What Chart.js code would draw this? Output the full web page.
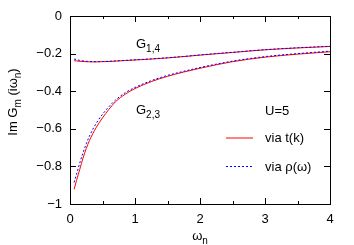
<!DOCTYPE html>
<html>
<head>
<meta charset="utf-8">
<script src="https://cdn.jsdelivr.net/npm/chart.js"></script>
<style>
  html, body { margin: 0; padding: 0; background: #fff; }
  #wrap { width: 354px; height: 245px; }
</style>
</head>
<body>
<div id="wrap"><canvas id="chart" width="354" height="245"></canvas></div>
<script>
// Matsubara frequencies (x) and Im G_m(i w_n)
const omega = [0.063, 0.1, 0.15, 0.2, 0.25, 0.3, 0.4, 0.5, 0.6, 0.7, 0.85, 1.0, 1.25, 1.5, 1.75, 2.0, 2.5, 3.0, 3.5, 4.0];
const g14ViaTk  = [-0.238, -0.239, -0.241, -0.242, -0.243, -0.244, -0.244, -0.243, -0.242, -0.240, -0.237, -0.234, -0.229, -0.223, -0.216, -0.208, -0.194, -0.180, -0.170, -0.162];
const g14ViaRho = [-0.229, -0.232, -0.236, -0.239, -0.241, -0.242, -0.243, -0.242, -0.241, -0.239, -0.236, -0.233, -0.228, -0.222, -0.215, -0.207, -0.193, -0.179, -0.169, -0.161];
const g23ViaTk  = [-0.922, -0.875, -0.816, -0.756, -0.705, -0.662, -0.595, -0.542, -0.496, -0.456, -0.416, -0.386, -0.349, -0.321, -0.298, -0.278, -0.243, -0.219, -0.203, -0.190];
const g23ViaRho = [-0.885, -0.842, -0.782, -0.728, -0.680, -0.638, -0.573, -0.523, -0.482, -0.447, -0.408, -0.380, -0.344, -0.316, -0.294, -0.274, -0.240, -0.216, -0.200, -0.187];

const xTicks = [0, 1, 2, 3, 4];
const xMinorTicks = [0.5, 1.5, 2.5, 3.5];
const yTicks = [0, -0.2, -0.4, -0.6, -0.8, -1];

const FONT = '"Liberation Sans", Arial, sans-serif';
const RED = '#ff0000';
const BLUE = '#0000ff';

function pts(ys) {
  return omega.map((x, i) => ({ x: x, y: ys[i] }));
}

function line(label, ys, color, dash) {
  return {
    label: label,
    data: pts(ys),
    borderColor: color,
    borderWidth: 1,
    borderDash: dash,
    pointRadius: 0,
    fill: false,
    cubicInterpolationMode: 'monotone'
  };
}

// text with subscripts: parts = [[text, isSub], ...]
function drawRich(ctx, parts, x, y, center) {
  let w = 0;
  parts.forEach(p => {
    ctx.font = (p[1] ? '10px ' : '13px ') + FONT;
    w += ctx.measureText(p[0]).width;
  });
  let cx = center ? x - w / 2 : x;
  parts.forEach(p => {
    ctx.font = (p[1] ? '10px ' : '13px ') + FONT;
    ctx.fillText(p[0], cx, p[1] ? y + 4 : y);
    cx += ctx.measureText(p[0]).width;
  });
}

const framePlugin = {
  id: 'frame',
  afterDraw(chart) {
    const ctx = chart.ctx;
    const a = chart.chartArea;
    const xs = chart.scales.x, ys = chart.scales.y;
    ctx.save();

    // legend samples
    ctx.lineWidth = 1;
    ctx.strokeStyle = RED;
    ctx.beginPath(); ctx.moveTo(226, 138); ctx.lineTo(253, 138); ctx.stroke();
    ctx.strokeStyle = BLUE;
    ctx.setLineDash([2, 2]);
    ctx.beginPath(); ctx.moveTo(226, 166.5); ctx.lineTo(253, 166.5); ctx.stroke();
    ctx.setLineDash([]);

    ctx.strokeStyle = '#000';
    ctx.strokeRect(a.left + 0.5, a.top + 0.5, a.right - a.left, a.bottom - a.top);
    ctx.beginPath();
    xTicks.forEach(v => {
      const px = Math.round(xs.getPixelForValue(v)) + 0.5;
      ctx.moveTo(px, a.bottom); ctx.lineTo(px, a.bottom - 6);
      ctx.moveTo(px, a.top); ctx.lineTo(px, a.top + 6);
    });
    xMinorTicks.forEach(v => {
      const px = Math.round(xs.getPixelForValue(v)) + 0.5;
      ctx.moveTo(px, a.bottom); ctx.lineTo(px, a.bottom - 3);
      ctx.moveTo(px, a.top); ctx.lineTo(px, a.top + 3);
    });
    yTicks.forEach(v => {
      const py = Math.round(ys.getPixelForValue(v)) + 0.5;
      ctx.moveTo(a.left, py); ctx.lineTo(a.left + 6, py);
      ctx.moveTo(a.right, py); ctx.lineTo(a.right - 6, py);
    });
    ctx.stroke();

    // labels
    ctx.fillStyle = '#000';
    ctx.textBaseline = 'alphabetic';
    ctx.textAlign = 'left';
    drawRich(ctx, [['G', false], ['1,4', true]], 136, 48, false);
    drawRich(ctx, [['G', false], ['2,3', true]], 136, 114, false);
    drawRich(ctx, [['U=5', false]], 265, 115, false);
    drawRich(ctx, [['via t(k)', false]], 265, 142, false);
    drawRich(ctx, [['via \u03c1(\u03c9)', false]], 265, 171, false);
    drawRich(ctx, [['\u03c9', false], ['n', true]], 200, 240, true);

    ctx.save();
    ctx.translate(17, 102);
    ctx.rotate(-Math.PI / 2);
    drawRich(ctx, [['Im G', false], ['m', true], [' (i\u03c9', false], ['n', true], [')', false]], 0, 0, true);
    ctx.restore();
    ctx.restore();
  }
};

new Chart(document.getElementById('chart').getContext('2d'), {
  type: 'line',
  data: {
    datasets: [
      line('G14 via rho', g14ViaRho, BLUE, [2, 2]),
      line('G23 via rho', g23ViaRho, BLUE, [2, 2]),
      line('G14 via t(k)', g14ViaTk, RED, []),
      line('G23 via t(k)', g23ViaTk, RED, [])
    ]
  },
  options: {
    responsive: false,
    animation: false,
    devicePixelRatio: 1,
    layout: { padding: { left: 0, right: 24, top: 16, bottom: 0 } },
    plugins: { legend: { display: false }, tooltip: { enabled: false } },
    scales: {
      x: {
        type: 'linear',
        min: 0, max: 4,
        grid: { display: false, drawTicks: false },
        border: { display: false },
        afterFit(scale) { scale.height = 41; },
        afterBuildTicks(scale) { scale.ticks = xTicks.map(v => ({ value: v })); },
        ticks: {
          padding: 8,
          color: '#000',
          font: { family: FONT, size: 13 },
          maxRotation: 0,
          callback: v => String(v)
        }
      },
      y: {
        type: 'linear',
        min: -1, max: 0,
        grid: { display: false, drawTicks: false },
        border: { display: false },
        afterFit(scale) { scale.width = 70; },
        afterBuildTicks(scale) { scale.ticks = yTicks.map(v => ({ value: v })); },
        ticks: {
          padding: 8,
          color: '#000',
          font: { family: FONT, size: 13 },
          callback: v => {
            const r = Math.round(v * 10) / 10;
            return r === 0 ? '0' : (r < 0 ? '\u2212' : '') + String(Math.abs(r));
          }
        }
      }
    }
  },
  plugins: [framePlugin]
});
</script>
</body>
</html>
